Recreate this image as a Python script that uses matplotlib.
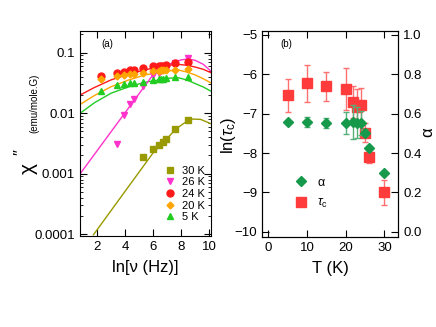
import numpy as np
import matplotlib
matplotlib.use("Agg")
import matplotlib.pyplot as plt
from matplotlib.lines import Line2D

plt.rcParams['font.family'] = ['Liberation Sans', 'DejaVu Sans']
plt.rcParams['mathtext.fontset'] = 'custom'
plt.rcParams['mathtext.rm'] = 'Liberation Sans'
plt.rcParams['mathtext.it'] = 'Liberation Sans:italic'

# (a) chi'' vs ln(frequency)
ln_nu = [2.30, 3.40, 3.91, 4.38, 4.61, 5.30, 5.99, 6.40, 6.55, 6.68, 6.91, 7.60, 8.52]
chi_24K = [0.041, 0.047, 0.048, 0.051, 0.052, 0.055, 0.060, 0.060, 0.061, 0.061, 0.063, 0.067, 0.070]
chi_20K = [0.037, 0.041, 0.043, 0.045, 0.045, 0.047, 0.050, 0.050, 0.051, 0.051, 0.052, 0.052, 0.053]
chi_5K = [0.0235, 0.029, 0.030, 0.032, 0.032, 0.033, 0.036, 0.037, 0.037, 0.037, 0.038, 0.040, 0.039]
ln_nu_26K = [3.40, 3.91, 4.38, 4.61, 5.30, 5.99, 6.40, 6.55, 6.68, 6.91, 7.60, 8.52]
chi_26K = [0.0031, 0.0093, 0.014, 0.017, 0.028, 0.042, 0.047, 0.049, 0.051, 0.053, 0.068, 0.081]
ln_nu_30K = [5.30, 5.99, 6.40, 6.68, 6.91, 7.60, 8.52]
chi_30K = [0.0019, 0.0026, 0.0030, 0.0034, 0.0037, 0.0055, 0.0077]

# fit curves
fit_x = [0.8, 1.8, 3.0, 4.2, 5.4, 6.6, 7.2, 7.8, 8.4, 9.0, 9.6, 10.2]
fit_24K = [0.020, 0.0265, 0.0355, 0.0437, 0.052, 0.059, 0.0624, 0.064, 0.0621, 0.058, 0.053, 0.046]
fit_20K = [0.014, 0.0195, 0.0274, 0.035, 0.0428, 0.048, 0.0505, 0.0518, 0.048, 0.043, 0.037, 0.031]
fit_5K = [0.010, 0.0148, 0.0214, 0.027, 0.0324, 0.036, 0.038, 0.0386, 0.0355, 0.031, 0.027, 0.0227]
fit_x_26K = [0.8, 6.2, 6.8, 7.4, 8.0, 8.5, 9.0, 9.6, 10.2]
fit_26K = [0.00100, 0.050, 0.060, 0.068, 0.076, 0.079, 0.075, 0.064, 0.048]
fit_x_30K = [1.75, 4.0, 6.0, 7.0, 7.6, 8.2, 8.8, 9.4, 10.2]
fit_30K = [0.98e-4, 5.1e-4, 0.0022, 0.0038, 0.0054, 0.0068, 0.0080, 0.0079, 0.0066]

# (b) ln(tau_c) and alpha vs T
T = [5, 10, 15, 20, 22, 23, 24, 25, 26, 30]
ln_tau = [-6.53, -6.23, -6.31, -6.38, -6.70, -6.82, -6.78, -7.48, -8.11, -9.0]
ln_tau_err = [0.42, 0.47, 0.38, 0.53, 0.41, 0.44, 0.42, 0.25, 0.14, 0.31]
alpha = [0.556, 0.556, 0.554, 0.554, 0.558, 0.554, 0.554, 0.504, 0.424, 0.30]
alpha_err = [0.0, 0.025, 0.025, 0.055, 0.085, 0.08, 0.06, 0.02, 0.01, 0.01]

fig = plt.figure(figsize=(4.36, 3.27), dpi=100)

# ---- panel (a)
ax = fig.add_axes([0.1835, 0.2783, 0.3005, 0.6269])
ax.set_yscale('log')
ax.plot(fit_x, fit_24K, color='#ff1a1a', lw=1)
ax.plot(fit_x, fit_20K, color='#ffa500', lw=1)
ax.plot(fit_x, fit_5K, color='#22cc22', lw=1)
ax.plot(fit_x_26K, fit_26K, color='#ff33cc', lw=1)
ax.plot(fit_x_30K, fit_30K, color='#999900', lw=1)

ax.plot(ln_nu_30K, chi_30K, 's', color='#999900', ms=4.5, label='30 K')
ax.plot(ln_nu_26K, chi_26K, 'v', color='#ff33cc', ms=5, label='26 K')
ax.plot(ln_nu, chi_24K, 'o', color='#ff1a1a', ms=5, label='24 K')
ax.plot(ln_nu, chi_20K, 'D', color='#ffa500', ms=3.5, label='20 K')
ax.plot(ln_nu, chi_5K, '^', color='#22cc22', ms=5, label='5 K')

ax.set_xlim(0.786, 10.14)
ax.set_ylim(9.33e-5, 0.2285)
ax.set_xticks([2, 4, 6, 8, 10])
ax.set_yticks([0.0001, 0.001, 0.01, 0.1])
ax.set_yticklabels(['0.0001', '0.001', '0.01', '0.1'])
ax.tick_params(which='both', direction='in', top=True, right=True, labelsize=9.5)
ax.tick_params(which='major', length=5)
ax.tick_params(which='minor', length=2.5)
ax.set_xlabel('ln[ν (Hz)]', fontsize=12, labelpad=5)
ax.text(0.16, 0.92, '(a)', transform=ax.transAxes, fontsize=7)
ax.legend(loc='center', bbox_to_anchor=(0.80, 0.205), frameon=False, fontsize=8,
          handlelength=1.0, handletextpad=0.6, labelspacing=0.15, borderpad=0)

# y label of (a): chi with double prime, small units
fig.text(28 / 436, 1 - 168 / 327, 'χ', rotation=90, fontsize=15, ha='center', va='center')
fig.text(21 / 436, 1 - 152 / 327, '″', rotation=90, fontsize=12, ha='center', va='center')
fig.text(34 / 436, 1 - 103 / 327, '(emu/mole.G)', rotation=90, fontsize=7,
         ha='center', va='center')

# ---- panel (b)
bx = fig.add_axes([0.6016, 0.2761, 0.3119, 0.6291])
bx.errorbar(T, ln_tau, yerr=ln_tau_err, fmt='none', ecolor='#ff7070', elinewidth=1,
            capsize=2.5, capthick=1)
bx.plot(T, ln_tau, 's', color='#ff3b3b', ms=6.5, zorder=3)
bx.set_xlim(-1.55, 33.6)
bx.set_ylim(-10.127, -4.90)
bx.set_xticks([0, 10, 20, 30])
bx.set_yticks([-5, -6, -7, -8, -9, -10])
bx.tick_params(direction='in', top=True, labelsize=9.5, length=5)
bx.set_xlabel('T (K)', fontsize=12, labelpad=5)
bx.text(0.13, 0.92, '(b)', transform=bx.transAxes, fontsize=7)
fig.text(228 / 436, 1 - 135 / 327, r'ln($\tau_{\rm c}$)', rotation=90, fontsize=12,
         ha='center', va='center')

cx = bx.twinx()
cx.errorbar(T, alpha, yerr=alpha_err, fmt='none', ecolor='#55b07a', elinewidth=1,
            capsize=2.5, capthick=1)
cx.plot(T, alpha, 'D', color='#16994a', ms=5, zorder=3)
cx.set_ylim((-10.127 + 10) / 5, (-4.90 + 10) / 5)
cx.set_yticks([0.0, 0.2, 0.4, 0.6, 0.8, 1.0])
cx.set_yticklabels(['0.0', '0.2', '0.4', '0.6', '0.8', '1.0'])
cx.tick_params(direction='in', labelsize=9.5, length=5)
fig.text(428 / 436, 1 - 132 / 327, 'α', rotation=90, fontsize=12, ha='center', va='center')

handles = [Line2D([], [], ls='none', marker='D', color='#16994a', ms=5),
           Line2D([], [], ls='none', marker='s', color='#ff3b3b', ms=6.5)]
cx.legend(handles, ['α', r'$\tau_{\rm c}$'], loc='center', bbox_to_anchor=(0.36, 0.21),
          frameon=False, fontsize=9, handlelength=1.0, handletextpad=0.8, labelspacing=0.7,
          borderpad=0)

fig.savefig('out.png', dpi=100)
